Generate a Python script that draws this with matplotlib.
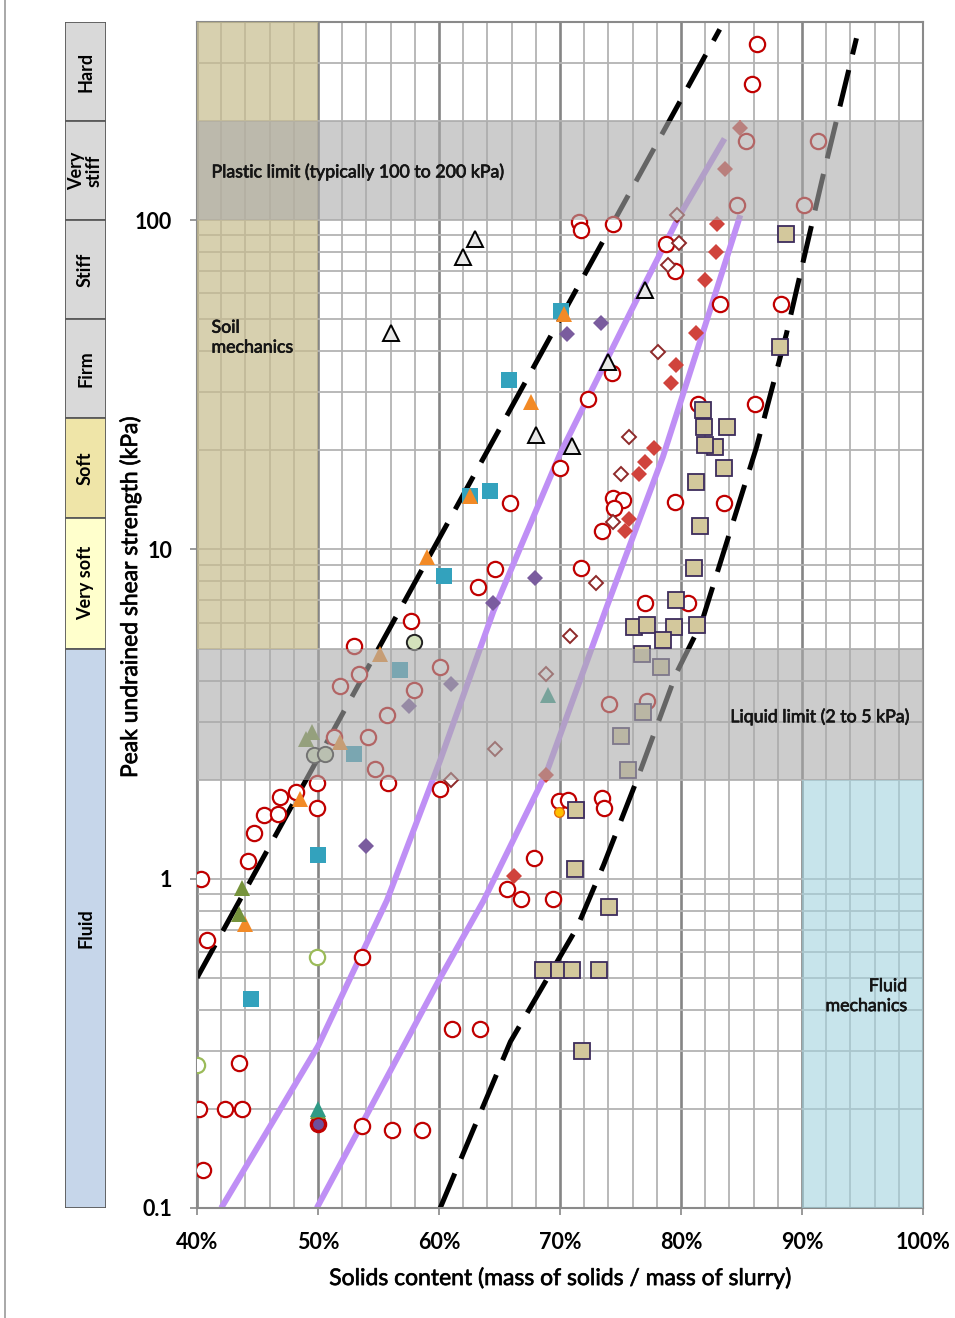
import matplotlib.pyplot as plt
import matplotlib.ticker as mticker
import matplotlib.patheffects as pe
from matplotlib.patches import Rectangle
from matplotlib.lines import Line2D
import numpy as np

plt.rcParams['font.family'] = ['Lato', 'DejaVu Sans']

# consistency classes shown in the side column (kPa)
consistency_labels = ['Hard', 'Very\nstiff', 'Stiff', 'Firm', 'Soft', 'Very soft', 'Fluid']
consistency_edges = [400, 200, 100, 50, 25, 12.5, 5, 0.1]
consistency_colors = ['#d9d9d9', '#d9d9d9', '#d9d9d9', '#d9d9d9', '#efe5a8', '#ffffcc', '#c6d6ea']

# bounding lines
upper_bound_x = [40.0, 83.2]
upper_bound_y = [0.5, 380]
lower_bound_x = [60.1, 65.9, 71.4, 73.6, 76.5, 79.6, 81.7, 86.25, 88.7, 91.75, 94.5]
lower_bound_y = [0.1, 0.32, 0.71, 1.1, 2.06, 4.2, 6.0, 20.5, 45, 137, 357]

# fitted trend curves
trend_a_x = [42.0, 50.0, 55.7, 60.1, 64.5, 70.0, 75.9, 79.9, 83.6]
trend_a_y = [0.1, 0.31, 0.86, 2.29, 6.5, 19.5, 53.3, 103.6, 177]
trend_b_x = [49.9, 60.1, 63.7, 68.9, 73.9, 78.5, 82.4, 84.9]
trend_b_y = [0.1, 0.50, 0.86, 2.11, 6.75, 19.1, 53.3, 103.6]

# measured points, grouped by symbol
red_circle_x = [71.6, 71.7, 74.4, 86.3, 85.9, 85.4, 91.3, 84.6, 90.2, 83.2, 88.3, 78.8, 79.5,
                74.3, 72.35, 70.0, 65.9, 74.35, 75.2, 74.5, 79.5, 73.5, 64.6, 63.2, 71.7, 77.0,
                81.4, 86.1, 83.55, 80.6, 57.7, 53.0, 60.1, 53.4, 51.8, 57.95, 55.7, 51.3, 54.1,
                54.7, 55.8, 49.9, 60.1, 48.2, 46.9, 45.5, 46.7, 49.9, 44.7, 44.2, 40.3, 40.8,
                53.6, 43.5, 40.2, 42.3, 43.7, 50.0, 53.6, 56.1, 58.6, 40.5, 74.05, 77.2, 69.9,
                70.7, 73.5, 73.6, 67.85, 65.6, 66.75, 69.4, 61.05, 63.4]
red_circle_y = [98.6, 93.3, 97.7, 344, 260, 174, 174, 111, 111, 55.8, 55.8, 84.9, 70,
                34.4, 28.7, 17.7, 13.8, 14.3, 14.1, 13.4, 13.9, 11.4, 8.7, 7.7, 8.8, 6.9,
                27.7, 27.7, 13.8, 6.9, 6.06, 5.1, 4.4, 4.2, 3.86, 3.75, 3.15, 2.7, 2.7,
                2.16, 1.96, 1.96, 1.87, 1.83, 1.77, 1.56, 1.57, 1.64, 1.38, 1.13, 1.0, 0.65,
                0.58, 0.275, 0.2, 0.2, 0.2, 0.18, 0.178, 0.173, 0.173, 0.13, 3.4, 3.47, 1.72,
                1.74, 1.76, 1.64, 1.16, 0.93, 0.87, 0.87, 0.35, 0.35]

red_diamond_x = [83.0, 82.9, 82.0, 81.2, 79.6, 79.2, 77.8, 77.0, 76.5, 75.7, 75.4, 83.6, 84.9, 68.85, 66.2]
red_diamond_y = [97.7, 79.8, 65.7, 45.4, 36.3, 32.0, 20.3, 18.4, 16.9, 12.4, 11.4, 142.6, 190, 2.06, 1.02]

open_diamond_x = [79.7, 79.8, 78.9, 78.1, 75.7, 75.0, 74.4, 73.0, 70.8, 68.85, 64.6, 61.0]
open_diamond_y = [104, 85, 73, 39.8, 21.9, 16.9, 12.1, 7.9, 5.46, 4.2, 2.47, 2.0]

tan_square_x = [88.65, 88.2, 81.8, 81.9, 83.8, 82.8, 82.0, 83.55, 81.2, 81.6, 81.1, 79.6, 76.1,
                77.2, 79.4, 81.3, 78.5, 76.75, 78.35, 76.9, 75.0, 75.65, 71.3, 71.2, 74.05,
                68.6, 69.9, 71.0, 73.2, 71.85]
tan_square_y = [91.1, 41.2, 26.6, 23.5, 23.5, 20.5, 20.7, 17.7, 16.0, 11.8, 8.8, 7.0, 5.8,
                5.9, 5.8, 5.9, 5.3, 4.8, 4.4, 3.2, 2.72, 2.14, 1.62, 1.07, 0.82,
                0.53, 0.53, 0.53, 0.53, 0.30]

teal_square_x = [70.1, 65.8, 64.2, 62.6, 60.4, 56.8, 53.0, 50.0, 44.5]
teal_square_y = [53, 32.8, 15.1, 14.5, 8.3, 4.3, 2.4, 1.18, 0.43]

orange_tri_x = [70.3, 67.6, 62.6, 59.0, 55.1, 51.8, 48.5, 44.0]
orange_tri_y = [52, 28.0, 14.5, 9.5, 4.8, 2.6, 1.75, 0.73]

open_tri_x = [63.0, 62.0, 56.0, 77.0, 74.0, 68.0, 71.0]
open_tri_y = [88, 77.3, 45.3, 61.3, 37.1, 22.2, 20.6]

purple_diamond_x = [73.4, 70.6, 67.9, 64.5, 57.5, 61.0, 54.0]
purple_diamond_y = [48.7, 45.0, 8.2, 6.9, 3.35, 3.9, 1.26]

olive_tri_x = [49.0, 49.5, 43.7, 43.5, 50.0]
olive_tri_y = [2.65, 2.8, 0.94, 0.78, 0.197]

teal_tri_x = [69.0, 50.0]
teal_tri_y = [3.62, 0.2]

green_circle_x = [49.95, 40.0]
green_circle_y = [0.58, 0.272]

sage_circle_x = [57.9, 49.7, 50.6]
sage_circle_y = [5.25, 2.38, 2.4]

yellow_circle_x = [69.95]
yellow_circle_y = [1.6]

purple_circle_x = [50.0]
purple_circle_y = [0.18]

fig = plt.figure(figsize=(9.55, 13.18), dpi=100)
W, H = 955, 1318
ax = fig.add_axes([197 / W, 1 - 1208 / H, 726 / W, 1186 / H])
ax.set_xlim(40, 100)
ax.set_yscale('log')
ax.set_ylim(0.1, 400)

ax.xaxis.set_major_locator(mticker.MultipleLocator(10))
ax.xaxis.set_minor_locator(mticker.MultipleLocator(2))
ax.xaxis.set_major_formatter(mticker.FuncFormatter(lambda v, p: f'{v:.0f}%'))
ax.yaxis.set_major_locator(mticker.FixedLocator([0.1, 1, 10, 100]))
ax.yaxis.set_minor_locator(mticker.LogLocator(subs=np.arange(2, 10), numticks=20))
ax.yaxis.set_major_formatter(mticker.FuncFormatter(lambda v, p: f'{v:g}'))
ax.yaxis.set_minor_formatter(mticker.NullFormatter())

ax.set_axisbelow(True)
ax.grid(which='minor', axis='x', color='#b3b3b3', lw=1.3)
ax.grid(which='major', axis='x', color='#858585', lw=1.9)
ax.grid(which='both', axis='y', color='#b3b3b3', lw=1.3)
ax.tick_params(which='minor', length=0)
ax.tick_params(which='major', length=5, width=1.2, color='#888888', labelsize=15.5)
ax.tick_params(axis='x', pad=12.5)
ax.tick_params(axis='y', pad=13)
for lab in ax.get_xticklabels() + ax.get_yticklabels():
    lab.set_fontweight('bold')
for s in ax.spines.values():
    s.set_color('#8a8a8a')
    s.set_linewidth(1.5)

# bounding lines and trend curves
ax.plot(upper_bound_x, upper_bound_y, color='black', lw=3.6, dashes=(7.5, 3.2), zorder=2)
ax.plot(lower_bound_x, lower_bound_y, color='black', lw=3.6, dashes=(7.5, 3.2), zorder=2)
ax.plot(trend_a_x, trend_a_y, color='#bf8ff5', lw=4.3, solid_capstyle='butt', zorder=2)
ax.plot(trend_b_x, trend_b_y, color='#bf8ff5', lw=4.3, solid_capstyle='butt', zorder=2)

# data points
mk = dict(ls='none', zorder=3)
ax.plot(red_circle_x, red_circle_y, marker='o', ms=11, mfc='white', mec='#c00000', mew=1.6, **mk)
ax.plot(open_diamond_x, open_diamond_y, marker='D', ms=7.5, mfc='white', mec='#8e2a2a', mew=1.4, **mk)
ax.plot(red_diamond_x, red_diamond_y, marker='D', ms=8, mfc='#d0433c', mec='#d0433c', mew=0, **mk)
ax.plot(tan_square_x, tan_square_y, marker='s', ms=11, mfc='#d3c89c', mec='#3d2c5c', mew=1.3, **mk)
ax.plot(teal_square_x, teal_square_y, marker='s', ms=11, mfc='#33a2bd', mec='#33a2bd', mew=0, **mk)
ax.plot(orange_tri_x, orange_tri_y, marker='^', ms=11, mfc='#f28a26', mec='#f28a26', mew=0, **mk)
ax.plot(open_tri_x, open_tri_y, marker='^', ms=11, mfc='#e8e8e8', mec='black', mew=1.4, **mk)
ax.plot(purple_diamond_x, purple_diamond_y, marker='D', ms=8, mfc='#7a5c9e', mec='#7a5c9e', mew=0, **mk)
ax.plot(olive_tri_x, olive_tri_y, marker='^', ms=11, mfc='#76933c', mec='#76933c', mew=0, **mk)
ax.plot(teal_tri_x, teal_tri_y, marker='^', ms=11, mfc='#2f9a86', mec='#2f9a86', mew=0, **mk)
ax.plot(green_circle_x, green_circle_y, marker='o', ms=11, mfc='white', mec='#9bbb59', mew=1.6, **mk)
ax.plot(sage_circle_x, sage_circle_y, marker='o', ms=11, mfc='#d4e2bc', mec='#222222', mew=1.4, **mk)
ax.plot(yellow_circle_x, yellow_circle_y, marker='o', ms=7, mfc='#ffc000', mec='#e46c0a', mew=1, **mk)
ax.plot(purple_circle_x, purple_circle_y, marker='o', ms=9, mfc='#6f4f9a', mec='#c00000', mew=1.2, **mk)

# shaded zones laid over the data
ax.fill_between([40, 50], 5, 400, color='#c7bc8e', alpha=0.7, lw=0, zorder=3.6)
ax.fill_between([90, 100], 0.1, 2, color='#a3d2de', alpha=0.6, lw=0, zorder=3.6)
ax.axhspan(100, 200, color='#aaaaaa', alpha=0.6, lw=0, zorder=4)
ax.axhspan(2, 5, color='#aaaaaa', alpha=0.6, lw=0, zorder=4)

# slightly heavier strokes for the annotation text
heavy = [pe.withStroke(linewidth=0.5, foreground='#151515')]
txt = dict(fontsize=12.8, color='#151515', zorder=6, path_effects=heavy)
ax.text(41.2, 140, 'Plastic limit (typically 100 to 200 kPa)', ha='left', va='center', **txt)
ax.text(41.2, 44, 'Soil\nmechanics', ha='left', va='center', linespacing=1.3, **txt)
ax.text(98.9, 3.1, 'Liquid limit (2 to 5 kPa)', ha='right', va='center', **txt)
ax.text(98.7, 0.44, 'Fluid\nmechanics', ha='right', va='center', multialignment='right',
        linespacing=1.3, **txt)

fig.text(560 / W, 1 - 1278 / H, 'Solids content (mass of solids / mass of slurry)',
         ha='center', va='center', fontsize=16.5, path_effects=heavy)
fig.text(130 / W, 1 - 597 / H, 'Peak undrained shear strength (kPa)', rotation=90,
         ha='center', va='center', fontsize=16.5, path_effects=heavy)

# consistency column
cax = fig.add_axes([65 / W, 1 - 1208 / H, 41 / W, 1186 / H])
cax.set_yscale('log')
cax.set_ylim(0.1, 400)
cax.set_xlim(0, 1)
cax.axis('off')
for i, lab in enumerate(consistency_labels):
    top, bot = consistency_edges[i], consistency_edges[i + 1]
    cax.add_patch(Rectangle((0, bot), 1, top - bot, facecolor=consistency_colors[i],
                            edgecolor='#5a5a5a', lw=1.3))
    cax.text(0.5, np.sqrt(top * bot), lab, rotation=90, ha='center', va='center',
             fontsize=13, fontweight='bold', linespacing=1.0)

# thin frame line down the left edge
fig.add_artist(Line2D([5 / W, 5 / W], [0, 1], color='#9a9a9a', lw=1.2))

fig.savefig('out.png', dpi=100)
